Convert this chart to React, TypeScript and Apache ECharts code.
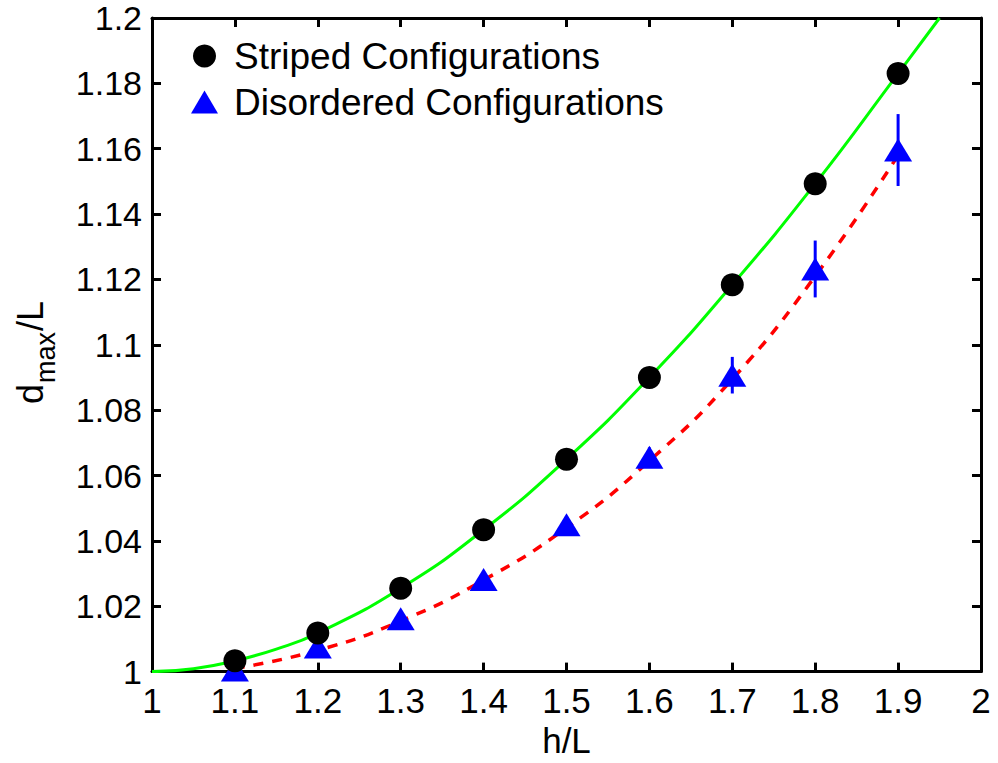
import React, { useEffect, useRef } from "react";
import * as echarts from "echarts";

// Measured maxima for the two configuration types
const hValues = [1.1, 1.2, 1.3, 1.4, 1.5, 1.6, 1.7, 1.8, 1.9];
const stripedValues = [1.0033, 1.0118, 1.0255, 1.0434, 1.065, 1.09, 1.1184, 1.1493, 1.183];
const disorderedValues = [1.0005, 1.0075, 1.0162, 1.0282, 1.0449, 1.0656, 1.0907, 1.1232, 1.1596];
const disorderedErr = [0.001, 0.0015, 0.002, 0.002, 0.0025, 0.003, 0.0056, 0.0087, 0.011];

// Fitted curves (sampled)
const stripedFitH = [1.0, 1.05, 1.1, 1.15, 1.2, 1.3, 1.4, 1.5, 1.6, 1.7, 1.8, 1.9, 1.95];
const stripedFitD = [1.0, 1.0009, 1.0033, 1.0069, 1.0118, 1.0255, 1.0434, 1.065, 1.09, 1.1184, 1.1493, 1.183, 1.2];
const disorderedFitH = [1.1, 1.2, 1.3, 1.4, 1.5, 1.6, 1.7, 1.8, 1.9];
const disorderedFitD = [1.001, 1.0065, 1.0155, 1.028, 1.044, 1.0645, 1.0895, 1.121, 1.158];

const FONT = "'Liberation Sans', Arial, Helvetica, sans-serif";

const fmt = (v: number) => String(+v.toFixed(2));

export default function App() {
  const ref = useRef<HTMLDivElement>(null);

  useEffect(() => {
    document.body.style.margin = "0";
    if (!ref.current) return;
    const chart = echarts.init(ref.current, null, { renderer: "svg" });

    const axisLine = { lineStyle: { color: "#000", width: 3 } };
    const axisTick = { inside: true, length: 9, lineStyle: { color: "#000", width: 3 } };
    const tickLabel = {
      formatter: fmt,
      fontFamily: FONT,
      fontSize: 34,
      lineHeight: 30,
      color: "#000",
    };

    chart.setOption({
      animation: false,
      backgroundColor: "#fff",
      grid: { left: 152, right: 17, top: 18, bottom: 87 },
      legend: {
        orient: "vertical",
        left: 186,
        top: 31,
        itemWidth: 27,
        itemHeight: 23,
        itemGap: 6,
        data: ["Striped Configurations", "Disordered Configurations"],
        textStyle: {
          fontFamily: FONT,
          fontSize: 37,
          color: "#000",
          lineHeight: 40,
          padding: [0, 0, 0, 11],
        },
      },
      xAxis: [
        {
          type: "value",
          min: 1,
          max: 2,
          interval: 0.1,
          name: "h/L",
          nameLocation: "middle",
          nameGap: 46,
          nameTextStyle: { fontFamily: FONT, fontSize: 35, color: "#000" },
          axisLine,
          axisTick,
          splitLine: { show: false },
          axisLabel: { ...tickLabel, fontSize: 35, margin: 14 },
        },
        {
          type: "value",
          position: "top",
          min: 1,
          max: 2,
          interval: 0.1,
          axisLine,
          axisTick,
          splitLine: { show: false },
          axisLabel: { show: false },
        },
      ],
      yAxis: [
        {
          type: "value",
          min: 1,
          max: 1.2,
          interval: 0.02,
          axisLine,
          axisTick,
          splitLine: { show: false },
          axisLabel: { ...tickLabel, margin: 10 },
        },
        {
          type: "value",
          position: "right",
          min: 1,
          max: 1.2,
          interval: 0.02,
          axisLine,
          axisTick,
          splitLine: { show: false },
          axisLabel: { show: false },
        },
      ],
      graphic: [
        {
          type: "group",
          x: 30,
          y: 404,
          rotation: Math.PI / 2,
          children: [
            {
              type: "text",
              x: 0,
              y: 0,
              style: { text: "d", font: `36px ${FONT}`, fill: "#000", verticalAlign: "middle" },
            },
            {
              type: "text",
              x: 21,
              y: 16,
              style: { text: "max", font: `27px ${FONT}`, fill: "#000", verticalAlign: "middle" },
            },
            {
              type: "text",
              x: 73,
              y: 0,
              style: { text: "/L", font: `36px ${FONT}`, fill: "#000", verticalAlign: "middle" },
            },
          ],
        },
      ],
      series: [
        {
          name: "striped fit",
          type: "line",
          data: stripedFitH.map((h, i) => [h, stripedFitD[i]]),
          smooth: true,
          showSymbol: false,
          clip: true,
          lineStyle: { color: "#00ff00", width: 3 },
          z: 2,
        },
        {
          name: "disordered fit",
          type: "line",
          data: disorderedFitH.map((h, i) => [h, disorderedFitD[i]]),
          smooth: true,
          showSymbol: false,
          lineStyle: { color: "#ff0000", width: 3.5, type: [10, 9] },
          z: 2,
        },
        {
          name: "error",
          type: "custom",
          data: hValues.map((h, i) => [h, disorderedValues[i], disorderedErr[i]]),
          renderItem: (_params: any, api: any) => {
            const x = api.value(0);
            const y = api.value(1);
            const e = api.value(2);
            const p1 = api.coord([x, y - e]);
            const p2 = api.coord([x, y + e]);
            return {
              type: "line",
              shape: { x1: p1[0], y1: p1[1], x2: p2[0], y2: p2[1] },
              style: { stroke: "#0000ff", lineWidth: 3 },
            };
          },
          z: 3,
        },
        {
          name: "Disordered Configurations",
          type: "scatter",
          symbol: "triangle",
          symbolSize: [28, 23],
          data: hValues.map((h, i) => [h, disorderedValues[i]]),
          itemStyle: { color: "#0000ff", opacity: 1 },
          z: 4,
        },
        {
          name: "Striped Configurations",
          type: "scatter",
          symbol: "circle",
          symbolSize: 23,
          data: hValues.map((h, i) => [h, stripedValues[i]]),
          itemStyle: { color: "#000", opacity: 1 },
          z: 5,
        },
      ],
    });

    return () => chart.dispose();
  }, []);

  return <div ref={ref} style={{ width: 998, height: 763 }} />;
}
